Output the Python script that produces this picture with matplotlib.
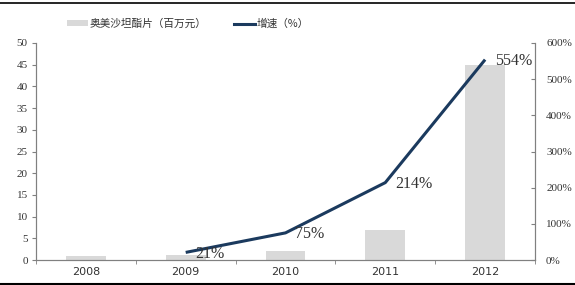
import matplotlib
matplotlib.use("Agg")
import matplotlib.pyplot as plt
from matplotlib.lines import Line2D
from matplotlib.patches import Patch
import numpy as np

years = ["2008", "2009", "2010", "2011", "2012"]
sales = [1.0, 1.2, 2.1, 6.9, 45.0]
growth_years = ["2009", "2010", "2011", "2012"]
growth = [21, 75, 214, 554]
growth_labels = ["21%", "75%", "214%", "554%"]

bar_color = "#d9d9d9"
line_color = "#1b3a5e"
axis_color = "#808080"
serif = "Liberation Serif"

fig = plt.figure(figsize=(5.75, 2.85), dpi=100)
ax = fig.add_axes([36/575, 25/285, 499/575, 217/285])
ax2 = ax.twinx()

x = np.arange(len(years))
ax.bar(x, sales, width=0.4, color=bar_color, zorder=1)
gx = [years.index(y) for y in growth_years]
ax2.plot(gx, growth, color=line_color, lw=2.2, solid_capstyle="butt", zorder=3)
for xi, v, lab in zip(gx, growth, growth_labels):
    ax2.annotate(lab, (xi, v), xytext=(7, -1), textcoords="offset points",
                 ha="left", va="center", fontsize=11.5, family=serif, color="#333333")

ax.set_xlim(-0.5, len(years) - 0.5)
ax.set_ylim(0, 50)
ax.set_yticks(np.arange(0, 51, 5))
ax.set_yticklabels([str(v) for v in range(0, 51, 5)], family=serif, fontsize=8, color="#333333")
ax2.set_ylim(0, 600)
ax2.set_yticks(np.arange(0, 601, 100))
ax2.set_yticklabels([f"{v}%" for v in range(0, 601, 100)], family=serif, fontsize=8, color="#333333")

ax.set_xticks(x)
ax.set_xticklabels(years, fontsize=8, color="#333333")
ax.set_xticks(np.arange(-0.5, len(years), 1.0), minor=True)
ax.tick_params(axis="x", which="major", length=0, pad=5)
ax.tick_params(axis="x", which="minor", length=3, color=axis_color, direction="out")
ax.tick_params(axis="y", length=3, color=axis_color, direction="out", pad=3)
ax2.tick_params(axis="y", length=3, color=axis_color, direction="in", pad=8)

for a in (ax, ax2):
    a.spines["top"].set_visible(False)
    for s in ("left", "right", "bottom"):
        a.spines[s].set_color(axis_color)
        a.spines[s].set_linewidth(0.8)

handles = [Patch(facecolor=bar_color, edgecolor="none"),
           Line2D([], [], color=line_color, lw=2.2)]
labels = ["奥美沙坦酯片（百万元）", "增速（%）"]
fig.legend(handles, labels, loc="center left", bbox_to_anchor=(64/575, 0.916), ncol=2,
           frameon=False, prop={"family": ["Noto Sans CJK SC", "DejaVu Sans"], "size": 7.7},
           handlelength=1.9, handleheight=0.5, columnspacing=2.6, handletextpad=0.2,
           borderaxespad=0, borderpad=0.3, labelcolor="#333333")

fig.add_artist(Line2D([0, 1], [1 - 2.5/285, 1 - 2.5/285], color="black", lw=1.2, transform=fig.transFigure))
fig.add_artist(Line2D([0, 1], [1.5/285, 1.5/285], color="black", lw=1.5, transform=fig.transFigure))

fig.savefig("out.png", dpi=100)
